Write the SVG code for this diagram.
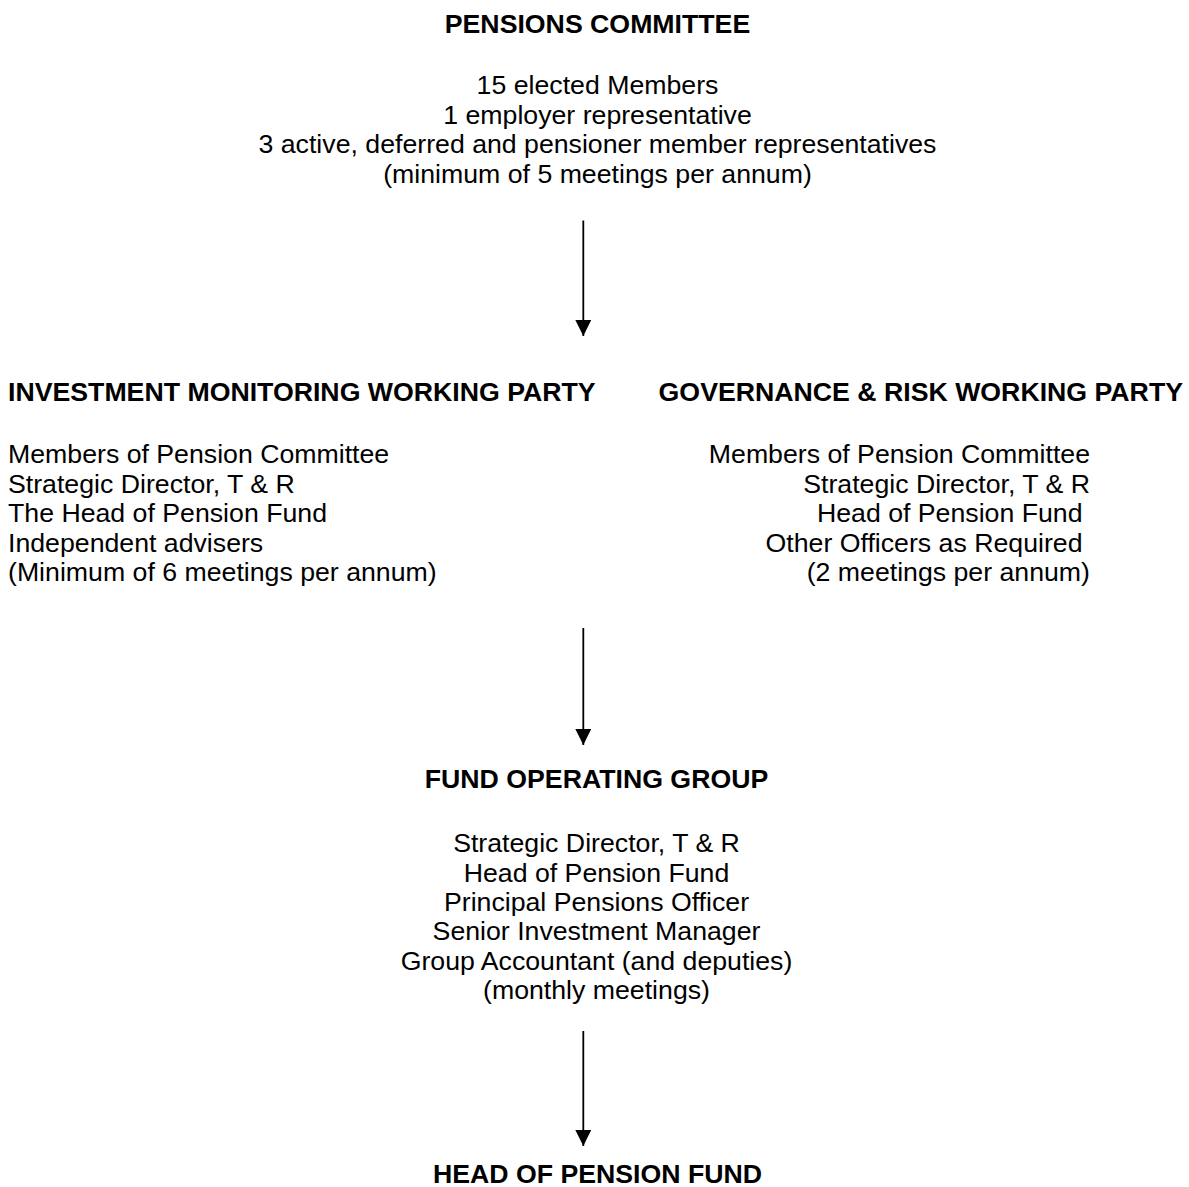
<svg xmlns="http://www.w3.org/2000/svg" width="1189" height="1187" viewBox="0 0 1189 1187">
<style>
text{font-family:"Liberation Sans",Arial,sans-serif;font-size:26.7px;fill:#000}
.b{font-weight:bold}
.m{text-anchor:middle}
.e{text-anchor:end}
.c{stroke:#000;stroke-width:1.8;fill:none}
</style>
<defs>
<marker id="ah" viewBox="0 0 16 16" refX="16" refY="8" markerWidth="16" markerHeight="16" markerUnits="userSpaceOnUse" orient="auto">
<path d="M0,0 L16,8 L0,16 Z" fill="#000"/>
</marker>
</defs>
<rect width="1189" height="1187" fill="#fff"/>
<g id="pensions-committee">
<text class="b m" x="597.5" y="33">PENSIONS COMMITTEE</text>
<text class="m" x="597.5" y="94">15 elected Members</text>
<text class="m" x="597.5" y="123.5">1 employer representative</text>
<text class="m" x="597.5" y="153">3 active, deferred and pensioner member representatives</text>
<text class="m" x="597.5" y="182.5">(minimum of 5 meetings per annum)</text>
</g>
<g id="investment-monitoring">
<text class="b" x="8" y="401">INVESTMENT MONITORING WORKING PARTY</text>
<text x="8" y="463">Members of Pension Committee</text>
<text x="8" y="492.5">Strategic Director, T &amp; R</text>
<text x="8" y="522">The Head of Pension Fund</text>
<text x="8" y="551.5">Independent advisers</text>
<text x="8" y="581">(Minimum of 6 meetings per annum)</text>
</g>
<g id="governance-risk">
<text class="b e" x="1183" y="401">GOVERNANCE &amp; RISK WORKING PARTY</text>
<text class="e" x="1090" y="463">Members of Pension Committee</text>
<text class="e" x="1090" y="492.5">Strategic Director, T &amp; R</text>
<text class="e" x="1082.5" y="522">Head of Pension Fund</text>
<text class="e" x="1082.5" y="551.5">Other Officers as Required</text>
<text class="e" x="1090" y="581">(2 meetings per annum)</text>
</g>
<g id="fund-operating-group">
<text class="b m" x="596.5" y="788">FUND OPERATING GROUP</text>
<text class="m" x="596.5" y="852">Strategic Director, T &amp; R</text>
<text class="m" x="596.5" y="881.5">Head of Pension Fund</text>
<text class="m" x="596.5" y="911">Principal Pensions Officer</text>
<text class="m" x="596.5" y="940">Senior Investment Manager</text>
<text class="m" x="596.5" y="969.5">Group Accountant (and deputies)</text>
<text class="m" x="596.5" y="998.5">(monthly meetings)</text>
</g>
<g id="head-of-pension-fund">
<text class="b m" x="597.5" y="1183">HEAD OF PENSION FUND</text>
</g>
<g id="connectors">
<line class="c" x1="583.3" y1="220.5" x2="583.3" y2="336" marker-end="url(#ah)"/>
<line class="c" x1="583.3" y1="628" x2="583.3" y2="745" marker-end="url(#ah)"/>
<line class="c" x1="583.3" y1="1031" x2="583.3" y2="1146" marker-end="url(#ah)"/>
</g>
</svg>
